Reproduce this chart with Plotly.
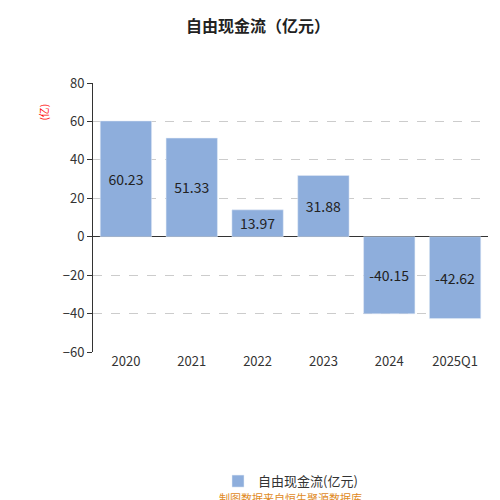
import plotly.graph_objects as go

years = ["2020", "2021", "2022", "2023", "2024", "2025Q1"]
values = [60.23, 51.33, 13.97, 31.88, -40.15, -42.62]
labels = ["60.23", "51.33", "13.97", "31.88", "-40.15", "-42.62"]

font = "Noto Sans CJK SC"

fig = go.Figure()
fig.add_trace(go.Bar(
    x=years, y=values, text=labels, textposition="inside",
    insidetextanchor="middle", textfont=dict(size=14, color="#222"),
    marker=dict(color="#8eaedc"), width=0.78, name="自由现金流(亿元)",
))
fig.update_layout(
    width=500, height=500, plot_bgcolor="white", paper_bgcolor="white",
    font=dict(family=font, size=13, color="#333"),
    margin=dict(l=85, r=20, t=75, b=127),
    title=dict(text="<b>自由现金流（亿元）</b>", x=0.5, y=0.975, xanchor="center",
               font=dict(size=16, color="#222")),
    showlegend=True,
    legend=dict(orientation="h", x=0.5, xanchor="center", y=-0.48, yanchor="middle",
                font=dict(size=13)),
    yaxis=dict(range=[-60, 80], dtick=20, showgrid=True, gridcolor="#ccc",
               griddash="dash", zeroline=True, zerolinecolor="#333", zerolinewidth=1,
               showline=True, linecolor="#333", ticks="outside", tickcolor="#333",
               tickfont=dict(size=13)),
    xaxis=dict(showline=False, ticks="", tickfont=dict(size=13)),
    annotations=[
        dict(text="(亿)", x=-0.15, y=0.93, xref="paper", yref="paper", showarrow=False,
             textangle=-90, font=dict(size=10, color="red")),
        dict(text="制图数据来自恒生聚源数据库", x=0.5, y=-0.58, xref="paper", yref="paper",
             xanchor="center", showarrow=False, font=dict(size=11, color="#e08a1e")),
    ],
)
fig.write_html("out.html")
